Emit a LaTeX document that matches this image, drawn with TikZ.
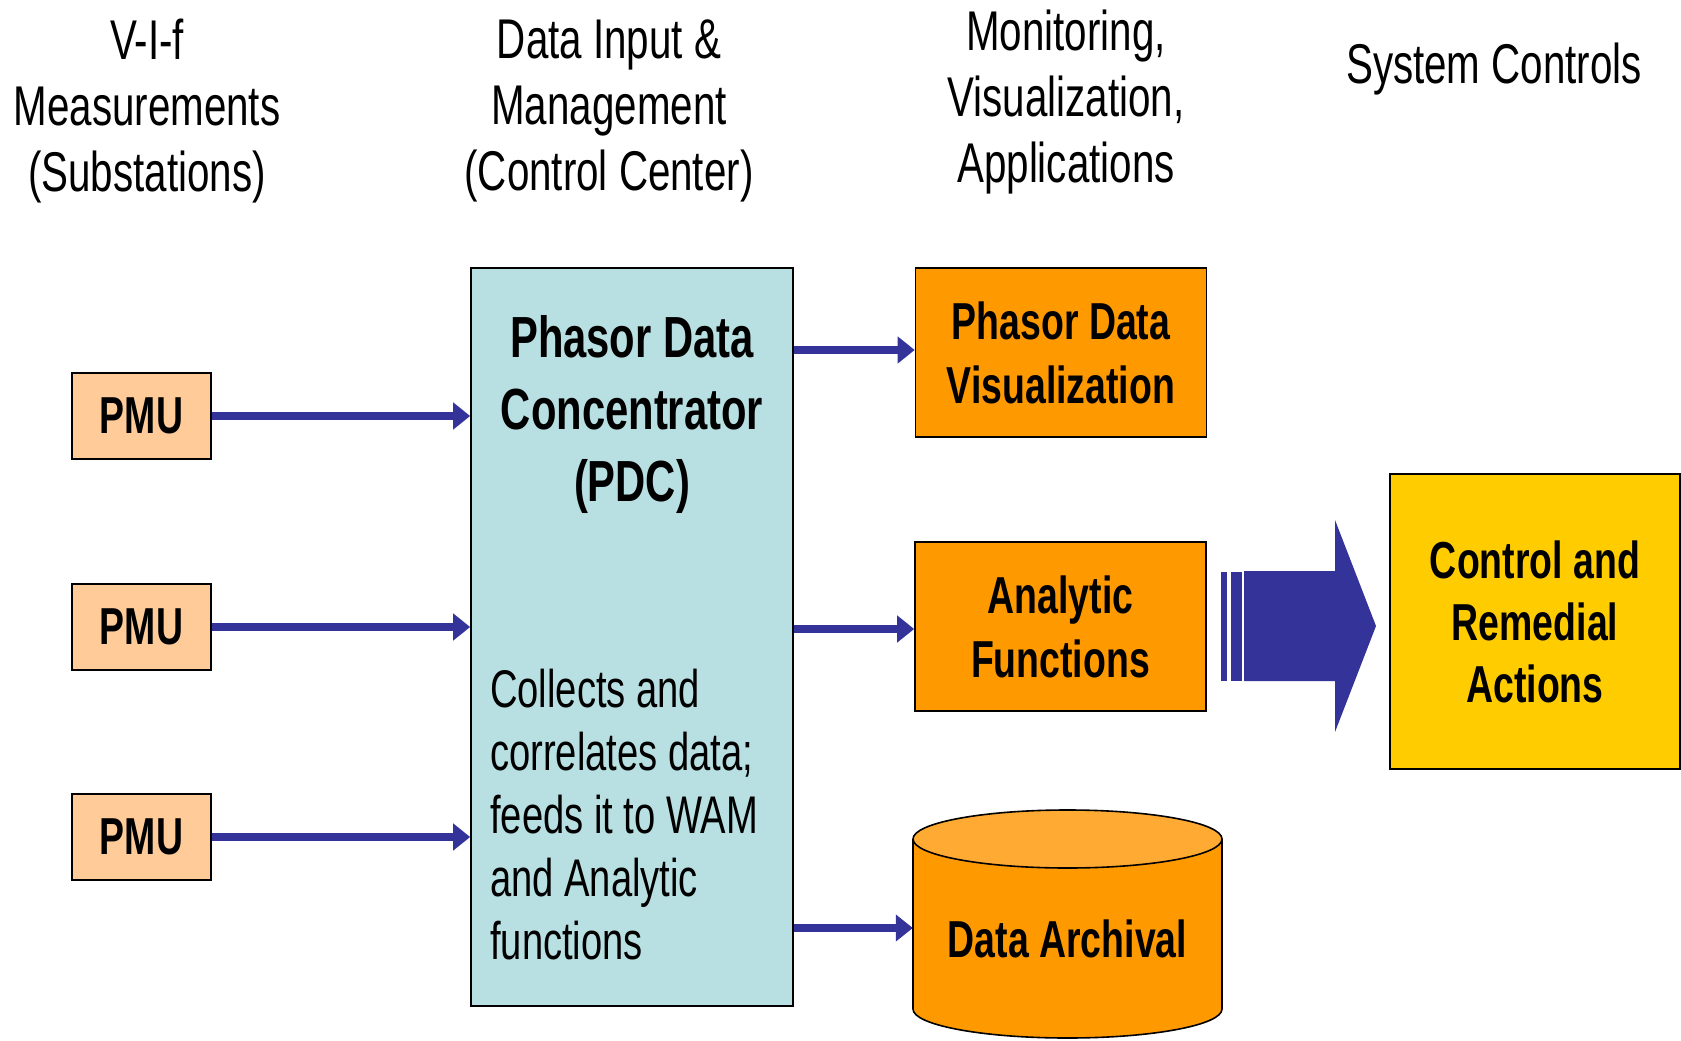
\documentclass[tikz,border=0pt]{standalone}
\usepackage{fontspec}
\setmainfont{Liberation Sans}[FakeStretch=0.72]
\usetikzlibrary{arrows.meta}

\definecolor{pmufill}{HTML}{FFCC99}
\definecolor{pdcfill}{HTML}{B8DFE2}
\definecolor{appfill}{HTML}{FF9900}
\definecolor{captop}{HTML}{FFAA33}
\definecolor{ctrlfill}{HTML}{FFCC00}
\definecolor{flowblue}{HTML}{333399}

\tikzset{
  box/.style={draw=black, line width=1.6pt, inner sep=0pt},
  pmubox/.style={box, fill=pmufill, minimum width=139pt, minimum height=86pt,
    font=\fontsize{52}{62}\selectfont\bfseries},
  appbox/.style={box, fill=appfill, minimum width=291pt, minimum height=169pt,
    align=center, font=\fontsize{52}{64}\selectfont\bfseries},
  header/.style={align=center, inner sep=0pt, font=\fontsize{56}{66}\selectfont},
  flow/.style={draw=flowblue, line width=8pt, -{Triangle[length=17pt,width=26pt]}},
}

\begin{document}
\begin{tikzpicture}[x=1pt, y=-1pt]
  \useasboundingbox[fill=white] (0,0) rectangle (1681,1041);

  % column headings
  \node[header] (h1) at (147,111) {V-I-f\\Measurements\\(Substations)};
  \node[header] (h2) at (609,111) {Data Input \&\\Management\\(Control Center)};
  \node[header] (h3) at (1066,102) {Monitoring,\\Visualization,\\Applications};
  \node[header] (h4) at (1494,69) {System Controls};

  % measurement units
  \node[pmubox] (pmu1) at (141.5,416) {PMU};
  \node[pmubox] (pmu2) at (141.5,627) {PMU};
  \node[pmubox] (pmu3) at (141.5,837) {PMU};

  % phasor data concentrator
  \node[box, fill=pdcfill, minimum width=322pt, minimum height=738pt] (pdc) at (632,637) {};
  \node[align=center, inner sep=0pt, font=\fontsize{58}{72}\selectfont\bfseries]
    (pdctitle) at (632,414) {Phasor Data\\Concentrator\\(PDC)};
  \node[align=left, anchor=west, inner sep=0pt, font=\fontsize{53}{63}\selectfont]
    (pdcnote) at (490,815) {Collects and\\correlates data;\\feeds it to WAM\\and Analytic\\functions};

  % applications
  \node[appbox] (vis) at (1061,352.5) {Phasor Data\\Visualization};
  \node[appbox] (ana) at (1060.5,626.5) {Analytic\\Functions};

  % data archive cylinder
  \fill[appfill] (913,839) -- (913,1009) arc[x radius=154.5, y radius=29, start angle=180, end angle=0] -- (1222,839) -- cycle;
  \draw[line width=1.6pt] (913,839) -- (913,1009) arc[x radius=154.5, y radius=29, start angle=180, end angle=0] -- (1222,839);
  \filldraw[fill=captop, draw=black, line width=1.6pt] (1067.5,839) ellipse[x radius=154.5, y radius=29];
  \node[minimum width=309pt, minimum height=170pt, inner sep=0pt] (arch) at (1067.5,924) {};
  \node[inner sep=0pt, font=\fontsize{52}{64}\selectfont\bfseries] (archtext) at (1067.5,939) {Data Archival};

  % control actions
  \node[box, fill=ctrlfill, minimum width=290pt, minimum height=295pt, align=center,
    font=\fontsize{52}{62}\selectfont\bfseries] (ctrl) at (1535,621.5) {Control and\\Remedial\\Actions};

  % data flow
  \draw[flow] (pmu1.east) -- (pmu1.east -| pdc.west);
  \draw[flow] (pmu2.east) -- (pmu2.east -| pdc.west);
  \draw[flow] (pmu3.east) -- (pmu3.east -| pdc.west);
  \draw[flow] (pdc.east |- 0,350) -- (vis.west |- 0,350);
  \draw[flow] (pdc.east |- 0,629) -- (ana.west |- 0,629);
  \draw[flow] (pdc.east |- 0,928) -- (arch.west |- 0,928);

  % block arrow toward control actions
  \fill[flowblue] (1221,572) rectangle (1227,681);
  \fill[flowblue] (1231,572) rectangle (1242,681);
  \fill[flowblue] (1244,571) -- (1335,571) -- (1335,520) -- (1376,626)
    -- (1335,732) -- (1335,681) -- (1244,681) -- cycle;
\end{tikzpicture}
\end{document}
